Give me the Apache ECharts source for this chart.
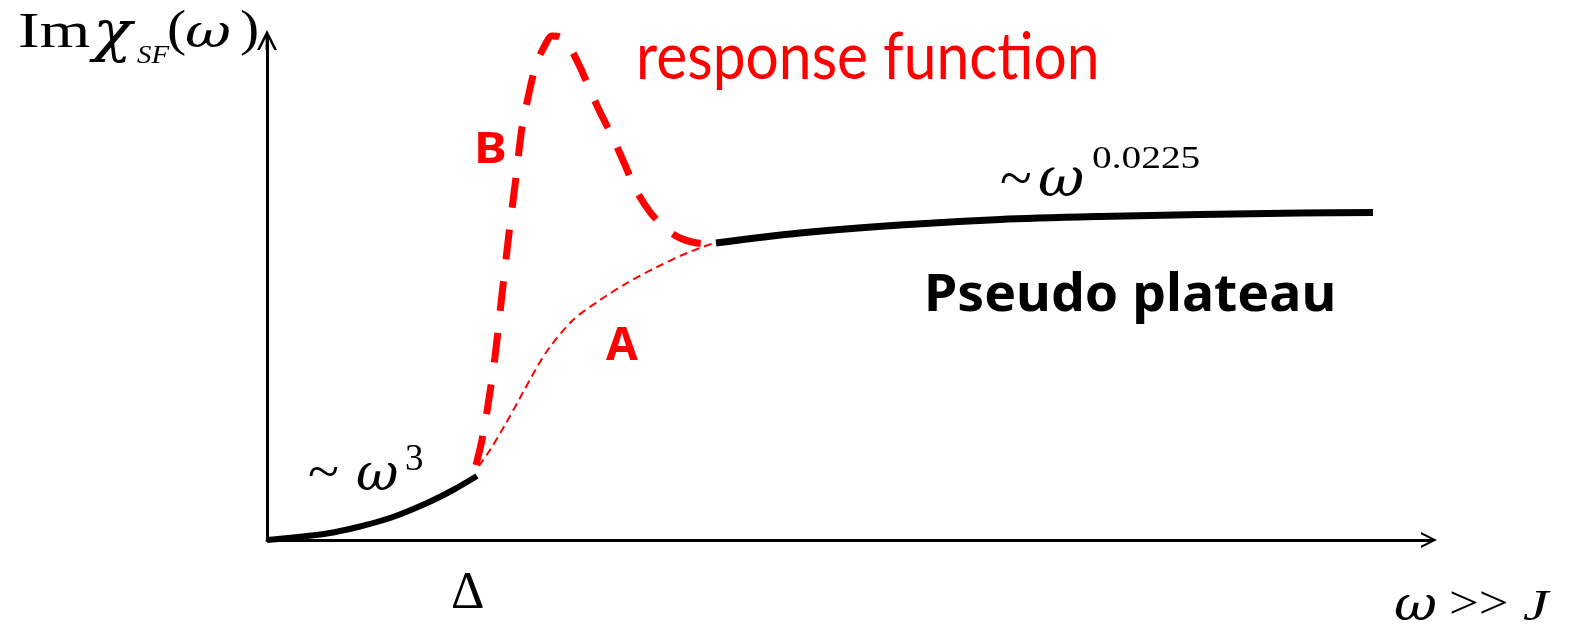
<!DOCTYPE html>
<html>
<head>
<meta charset="utf-8">
<script src="https://cdn.jsdelivr.net/npm/echarts@6.0.0/dist/echarts.min.js"></script>
<style>
  html, body { margin: 0; padding: 0; background: #fff; }
  #chart { width: 1581px; height: 625px; }
</style>
</head>
<body>
<div id="chart"></div>
<script>
// Low-frequency onset, ~ω^3
const cubicX = [0, 0.224, 0.516, 0.80, 1.084, 1.377, 1.601, 1.807];
const cubicY = [0, 0.05, 0.13, 0.27, 0.46, 0.74, 1.00, 1.28];

// Curve B: resonance peak above the gap
const peakX = [1.799, 1.850, 1.902, 1.962, 2.022, 2.083, 2.143, 2.194, 2.255, 2.315, 2.384, 2.453,
               2.522, 2.599, 2.694, 2.780, 2.866, 2.978, 3.081, 3.176, 3.296, 3.425, 3.554, 3.701, 3.778];
const peakY = [1.50, 2.00, 2.70, 3.66, 4.90, 6.14, 7.26, 8.24, 8.94, 9.50, 9.86, 10.08,
               10.06, 9.88, 9.46, 9.00, 8.56, 8.04, 7.50, 7.00, 6.56, 6.24, 6.04, 5.94, 5.93];

// Curve A: smooth crossover without a peak
const smoothX = [1.824, 1.919, 2.048, 2.177, 2.324, 2.435, 2.633, 2.866, 3.098, 3.356, 3.614, 3.847];
const smoothY = [1.48, 1.80, 2.30, 2.84, 3.46, 3.86, 4.40, 4.80, 5.14, 5.46, 5.74, 5.94];

// High-frequency pseudo plateau, ~ω^0.0225
const plateauX = [3.864, 4.587, 5.448, 6.308, 7.169, 8.029, 8.890, 9.518];
const plateauY = [5.94, 6.14, 6.30, 6.41, 6.47, 6.51, 6.54, 6.55];

const zip = (xs, ys) => xs.map((x, i) => [x, ys[i]]);

// Open chevron arrow head (points up; ECharts rotates it along the axis)
const chevron = 'path://M0,10 L5,0 L10,10 L8.6,10 L5,2.8 L1.4,10 Z M4.3,1.4 L5.7,1.4 L5.7,10 L4.3,10 Z';

const SERIF = '"Liberation Serif", "Times New Roman", serif';
const GREEK = '"DejaVu Serif", "Liberation Serif", serif';
const SANS = '"Noto Sans", "Open Sans", sans-serif';
const LATO = 'Lato, "Noto Sans", sans-serif';

// Text placed by its left edge and baseline
function label(text, left, baseline, size, o) {
  o = o || {};
  return {
    type: 'text',
    x: left,
    y: baseline - 0.3 * size,
    scaleX: o.sx || 1,
    silent: true,
    z: 100,
    style: {
      text: text,
      x: 0, y: 0,
      fill: o.color || '#000',
      fontSize: size,
      fontFamily: o.family || SERIF,
      fontStyle: o.italic ? 'italic' : 'normal',
      fontWeight: o.bold ? 'bold' : 'normal',
      textAlign: 'left',
      textVerticalAlign: 'middle',
      verticalAlign: 'middle'
    }
  };
}

const chart = echarts.init(document.getElementById('chart'), null, { renderer: 'canvas' });

const axisCommon = {
  type: 'value',
  min: 0,
  max: 10,
  axisTick: { show: false },
  axisLabel: { show: false },
  splitLine: { show: false }
};

const curve = (name, xs, ys, z, lineStyle) => ({
  name: name, type: 'line', data: zip(xs, ys), showSymbol: false,
  smooth: 0.3, clip: false, z: z, lineStyle: lineStyle
});

chart.setOption({
  animation: false,
  backgroundColor: '#fff',
  grid: { left: 267, top: 40, width: 1162, height: 500, containLabel: false },
  xAxis: Object.assign({}, axisCommon, {
    axisLine: { show: true, symbol: ['none', chevron], symbolSize: [22, 16],
                lineStyle: { color: '#000', width: 3 } }
  }),
  yAxis: Object.assign({}, axisCommon, {
    axisLine: { show: true, symbol: ['none', chevron], symbolSize: [22, 20],
                lineStyle: { color: '#000', width: 3 } }
  }),
  series: [
    curve('B', peakX, peakY, 2, { color: '#ff0000', width: 7, type: [30, 22], cap: 'butt' }),
    curve('A', smoothX, smoothY, 2, { color: '#ff0000', width: 2, type: [8, 5] }),
    curve('cubic', cubicX, cubicY, 3, { color: '#000', width: 6 }),
    curve('plateau', plateauX, plateauY, 3, { color: '#000', width: 7 })
  ],
  graphic: [
    // Im χ_SF(ω)
    label('Im', 18, 49, 50, { sx: 1.3 }),
    label('χ', 93, 52, 56, { family: GREEK, italic: true, sx: 1.15 }),
    label('SF', 137, 64, 25, { italic: true, sx: 1.15 }),
    label('(', 167, 47, 50, { sx: 1.15 }),
    label('ω', 185, 49, 47, { family: GREEK, italic: true, sx: 1.2 }),
    label(')', 240, 47, 50, { sx: 1.15 }),

    // ~ ω^3
    label('~', 308, 491, 52, { sx: 1.1 }),
    label('ω', 356, 492, 52, { family: GREEK, italic: true }),
    label('3', 405, 471, 37),

    // ~ ω^0.0225
    label('~', 1000, 199, 56, { sx: 1.05 }),
    label('ω', 1038, 198, 54, { family: GREEK, italic: true, sx: 1.05 }),
    label('0.0225', 1092, 169, 31, { sx: 1.27 }),

    // Δ and ω >> J
    label('Δ', 451, 610, 52),
    label('ω', 1394, 622, 48, { family: GREEK, italic: true, sx: 1.1 }),
    label('>>', 1449, 620, 46, { sx: 1.15 }),
    label('J', 1523, 622, 44, { italic: true, sx: 1.3 }),

    // Curve tags and annotations
    label('B', 474, 164, 43, { family: SANS, bold: true, color: '#ff0000', sx: 1.15 }),
    label('A', 606, 361, 46, { family: SANS, bold: true, color: '#ff0000' }),
    label('Pseudo plateau', 924, 312, 52, { family: SANS, bold: true, sx: 1.03 }),
    label('response function', 636, 78, 66, { family: LATO, color: '#ff0000', sx: 0.89 })
  ]
});
</script>
</body>
</html>
